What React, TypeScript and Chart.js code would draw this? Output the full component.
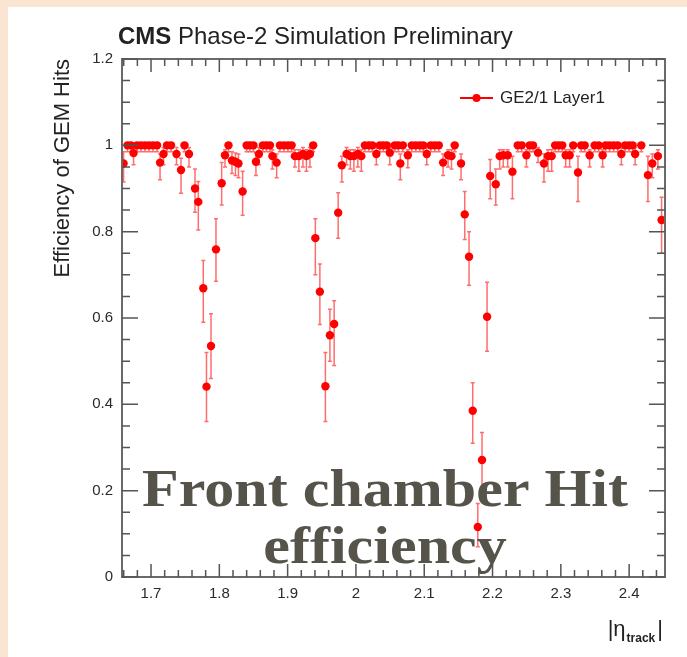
import React, { useEffect, useRef } from "react";
import { Chart, registerables } from "chart.js";

Chart.register(...registerables);

// ---- data ----
const etaValues = [
  1.6598, 1.6656, 1.6707, 1.6744, 1.6795, 1.6854, 1.6912, 1.6971, 1.7029, 1.7088,
  1.7132, 1.7183, 1.7234, 1.7293, 1.7373, 1.7439, 1.749, 1.7556, 1.7644, 1.7692,
  1.7765, 1.7812, 1.7878, 1.7951, 1.8034, 1.8083, 1.8134, 1.8185, 1.8236, 1.828,
  1.8341, 1.84, 1.8448, 1.8499, 1.8536, 1.858, 1.8638, 1.869, 1.8741, 1.8777,
  1.8839, 1.8887, 1.8946, 1.9004, 1.9058, 1.9107, 1.9165, 1.9224, 1.9275, 1.9326,
  1.9374, 1.9406, 1.9472, 1.9553, 1.9619, 1.9681, 1.974, 1.9794, 1.9863, 1.9918,
  1.997, 2.0028, 2.0079, 2.0131, 2.0189, 2.024, 2.0299, 2.035, 2.0401, 2.0452,
  2.0496, 2.0569, 2.0621, 2.065, 2.0686, 2.076, 2.0818, 2.0877, 2.0935, 2.0986,
  2.1037, 2.1096, 2.1154, 2.1213, 2.1276, 2.1349, 2.1399, 2.1446, 2.1539, 2.1593,
  2.1656, 2.171, 2.1784, 2.1846, 2.192, 2.1966, 2.2047, 2.2105, 2.2157, 2.2222,
  2.2291, 2.2369, 2.2427, 2.2496, 2.2544, 2.2592, 2.2666, 2.2753, 2.2812, 2.2866,
  2.2917, 2.2968, 2.302, 2.3071, 2.3129, 2.3181, 2.3251, 2.3298, 2.3349, 2.3422,
  2.3495, 2.3554, 2.3612, 2.3656, 2.3714, 2.3773, 2.3832, 2.3886, 2.3941, 2.4,
  2.4051, 2.4088, 2.4178, 2.4275, 2.4339, 2.4421, 2.4475,
];

const efficiency = [
  0.958, 1, 1, 0.982, 1, 1, 1, 1, 1, 1,
  0.96, 0.98, 1, 1, 0.98, 0.943, 1, 0.98, 0.9, 0.869,
  0.669, 0.441, 0.535, 0.759, 0.912, 0.977, 1, 0.965, 0.962, 0.958,
  0.893, 1, 1, 1, 0.962, 0.98, 1, 1, 1, 0.975,
  0.96, 1, 1, 1, 1, 0.975, 0.975, 0.98, 0.975, 0.98,
  1, 0.785, 0.661, 0.442, 0.56, 0.586, 0.844, 0.954, 0.98, 0.975,
  0.975, 0.98, 0.975, 1, 1, 1, 0.98, 1, 1, 1,
  0.983, 1, 1, 0.958, 1, 0.977, 1, 1, 1, 1,
  0.98, 1, 1, 1, 0.96, 0.977, 0.975, 1, 0.958, 0.84,
  0.742, 0.385, 0.116, 0.271, 0.603, 0.929, 0.91, 0.975, 0.977, 0.977,
  0.939, 1, 1, 0.977, 1, 1, 0.983, 0.958, 0.975, 0.975,
  1, 1, 1, 0.977, 0.977, 1, 0.937, 1, 1, 0.977,
  1, 1, 0.977, 1, 1, 1, 1, 0.98, 1, 1,
  1, 0.98, 1, 0.931, 0.958, 0.975, 0.827,
];

const errLow = [
  0.915, 0.985, 0.985, 0.955, 0.985, 0.985, 0.985, 0.985, 0.985, 0.985,
  0.92, 0.955, 0.985, 0.985, 0.955, 0.889, 0.985, 0.95, 0.845, 0.804,
  0.59, 0.36, 0.46, 0.685, 0.862, 0.95, 0.985, 0.935, 0.93, 0.925,
  0.838, 0.985, 0.985, 0.985, 0.93, 0.955, 0.985, 0.985, 0.985, 0.945,
  0.925, 0.985, 0.985, 0.985, 0.985, 0.95, 0.94, 0.95, 0.94, 0.95,
  0.985, 0.7, 0.585, 0.36, 0.5, 0.49, 0.785, 0.915, 0.955, 0.945,
  0.94, 0.95, 0.94, 0.985, 0.985, 0.985, 0.955, 0.985, 0.985, 0.985,
  0.955, 0.985, 0.985, 0.92, 0.985, 0.948, 0.985, 0.985, 0.985, 0.985,
  0.955, 0.985, 0.985, 0.985, 0.93, 0.95, 0.945, 0.985, 0.92, 0.782,
  0.676, 0.31, 0.07, 0.2, 0.523, 0.876, 0.862, 0.945, 0.95, 0.95,
  0.876, 0.985, 0.985, 0.95, 0.985, 0.985, 0.96, 0.915, 0.94, 0.94,
  0.985, 0.985, 0.985, 0.95, 0.95, 0.985, 0.87, 0.985, 0.985, 0.95,
  0.985, 0.985, 0.95, 0.985, 0.985, 0.985, 0.985, 0.955, 0.985, 0.985,
  0.985, 0.955, 0.985, 0.87, 0.925, 0.945, 0.75,
];

const errHigh = [
  0.985, 1, 1, 0.995, 1, 1, 1, 1, 1, 1,
  0.98, 0.995, 1, 1, 0.995, 0.97, 1, 0.995, 0.945, 0.916,
  0.733, 0.52, 0.61, 0.83, 0.96, 0.99, 1, 0.985, 0.982, 0.98,
  0.94, 1, 1, 1, 0.982, 0.995, 1, 1, 1, 0.99,
  0.98, 1, 1, 1, 1, 0.99, 0.99, 0.995, 0.99, 0.995,
  1, 0.83, 0.725, 0.52, 0.62, 0.64, 0.89, 0.975, 0.995, 0.99,
  0.99, 0.995, 0.99, 1, 1, 1, 0.995, 1, 1, 1,
  0.995, 1, 1, 0.98, 1, 0.99, 1, 1, 1, 1,
  0.995, 1, 1, 1, 0.98, 0.99, 0.99, 1, 0.98, 0.893,
  0.8, 0.45, 0.17, 0.335, 0.683, 0.967, 0.945, 0.99, 0.99, 0.99,
  0.975, 1, 1, 0.99, 1, 1, 0.995, 0.98, 0.99, 0.99,
  1, 1, 1, 0.99, 0.99, 1, 0.975, 1, 1, 0.99,
  1, 1, 0.99, 1, 1, 1, 1, 0.995, 1, 1,
  1, 0.995, 1, 0.975, 0.98, 0.99, 0.88,
];

const xTickValues = [1.7, 1.8, 1.9, 2.0, 2.1, 2.2, 2.3, 2.4];
const xTickLabels = ["1.7", "1.8", "1.9", "2", "2.1", "2.2", "2.3", "2.4"];
const yTickValues = [0, 0.2, 0.4, 0.6, 0.8, 1.0, 1.2];
const yTickLabels = ["0", "0.2", "0.4", "0.6", "0.8", "1", "1.2"];

const seriesLabel = "GE2/1 Layer1";
const titleBold = "CMS";
const titleRest = " Phase-2 Simulation Preliminary";
const yAxisTitle = "Efficiency of GEM Hits";
const xAxisTitleMain = "|\u03B7";
const xAxisTitleSub = "track";
const xAxisTitleEnd = "|";
const overlayLines = ["Front chamber Hit", "efficiency"];

const X_MIN = 1.6575;
const X_MAX = 2.4525;
const Y_MIN = 0;
const Y_MAX = 1.2;

const SANS = '"Liberation Sans", Arial, Helvetica, sans-serif';
const SERIF = '"Liberation Serif", "Times New Roman", serif';

const decorPlugin = {
  id: "rootDecor",
  beforeDatasetsDraw(chart: any) {
    const ctx = chart.ctx;
    const xs = chart.scales.x;
    const ys = chart.scales.y;
    ctx.save();
    ctx.strokeStyle = "rgba(255,30,30,0.65)";
    ctx.lineWidth = 1.5;
    etaValues.forEach((eta, i) => {
      const px = xs.getPixelForValue(eta);
      const lo = ys.getPixelForValue(errLow[i]);
      const hi = ys.getPixelForValue(errHigh[i]);
      ctx.beginPath();
      ctx.moveTo(px, lo);
      ctx.lineTo(px, hi);
      if (Math.abs(lo - hi) > 3) {
        ctx.moveTo(px - 2, lo);
        ctx.lineTo(px + 2, lo);
        ctx.moveTo(px - 2, hi);
        ctx.lineTo(px + 2, hi);
      }
      ctx.stroke();
    });
    ctx.restore();
  },
  afterDraw(chart: any) {
    const ctx = chart.ctx;
    const { left, right, top, bottom } = chart.chartArea;
    const xs = chart.scales.x;
    const ys = chart.scales.y;
    ctx.save();

    // frame
    ctx.strokeStyle = "#6a6a6a";
    ctx.lineWidth = 2;
    ctx.strokeRect(left, top, right - left, bottom - top);

    // ticks
    ctx.lineWidth = 1.5;
    ctx.strokeStyle = "#555";
    ctx.beginPath();
    for (let k = 0; k <= 24; k++) {
      const v = k * 0.05;
      const py = ys.getPixelForValue(v);
      const len = k % 4 === 0 ? 16 : 8;
      ctx.moveTo(left, py);
      ctx.lineTo(left + len, py);
      ctx.moveTo(right, py);
      ctx.lineTo(right - len, py);
    }
    const k0 = Math.ceil(X_MIN / 0.02);
    const k1 = Math.floor(X_MAX / 0.02);
    for (let k = k0; k <= k1; k++) {
      const v = k * 0.02;
      const px = xs.getPixelForValue(v);
      const len = k % 5 === 0 ? 13 : 7;
      ctx.moveTo(px, bottom);
      ctx.lineTo(px, bottom - len);
      ctx.moveTo(px, top);
      ctx.lineTo(px, top + len);
    }
    ctx.stroke();

    // title
    ctx.fillStyle = "#222";
    ctx.textBaseline = "alphabetic";
    ctx.textAlign = "left";
    ctx.font = `bold 24px ${SANS}`;
    const tx = 110;
    const ty = 37;
    ctx.fillText(titleBold, tx, ty);
    const wb = ctx.measureText(titleBold).width;
    ctx.font = `24px ${SANS}`;
    ctx.fillText(titleRest, tx + wb, ty);

    // y axis title (right-aligned at top of axis, ROOT style)
    ctx.save();
    ctx.translate(55, top);
    ctx.rotate(-Math.PI / 2);
    ctx.font = `22px ${SANS}`;
    ctx.textAlign = "right";
    ctx.textBaseline = "middle";
    ctx.fillText(yAxisTitle, 0, 0);
    ctx.restore();

    // x axis title
    ctx.font = `22px ${SANS}`;
    const w1 = ctx.measureText(xAxisTitleMain).width;
    const w3 = ctx.measureText(xAxisTitleEnd).width;
    ctx.font = `bold 12px ${SANS}`;
    const w2 = ctx.measureText(xAxisTitleSub).width;
    const endX = right - 2;
    const startX = endX - (w1 + 1 + w2 + 2 + w3);
    ctx.textAlign = "left";
    ctx.font = `22px ${SANS}`;
    ctx.fillText(xAxisTitleMain, startX, 629);
    ctx.font = `bold 12px ${SANS}`;
    ctx.fillText(xAxisTitleSub, startX + w1 + 1, 635);
    ctx.font = `22px ${SANS}`;
    ctx.fillText(xAxisTitleEnd, startX + w1 + 1 + w2 + 2, 629);

    // legend
    const ly = 91;
    ctx.strokeStyle = "#ff0000";
    ctx.lineWidth = 2;
    ctx.beginPath();
    ctx.moveTo(452, ly);
    ctx.lineTo(485, ly);
    ctx.stroke();
    ctx.fillStyle = "#ff0000";
    ctx.beginPath();
    ctx.arc(468.5, ly, 4, 0, Math.PI * 2);
    ctx.fill();
    ctx.fillStyle = "#222";
    ctx.font = `17px ${SANS}`;
    ctx.textBaseline = "middle";
    ctx.fillText(chart.data.datasets[0].label, 492, ly);

    // overlay caption
    ctx.fillStyle = "#55534a";
    ctx.font = `bold 53px ${SERIF}`;
    ctx.textBaseline = "alphabetic";
    ctx.textAlign = "center";
    const m = ctx.measureText(overlayLines[0]).width;
    const sx = 486 / m;
    const cx = 377;
    ctx.save();
    ctx.translate(cx, 499);
    ctx.scale(sx, 1);
    ctx.fillText(overlayLines[0], 0, 0);
    ctx.restore();
    ctx.save();
    ctx.translate(cx, 556);
    ctx.scale(sx, 1);
    ctx.fillText(overlayLines[1], 0, 0);
    ctx.restore();

    ctx.restore();
  },
};

export default function App() {
  const ref = useRef<HTMLCanvasElement | null>(null);

  useEffect(() => {
    document.body.style.margin = "0";
    const canvas = ref.current;
    if (!canvas) return;
    const points = etaValues.map((x, i) => ({ x, y: efficiency[i] }));
    const chart = new Chart(canvas, {
      type: "scatter",
      data: {
        datasets: [
          {
            label: seriesLabel,
            data: points,
            showLine: false,
            pointRadius: 4.2,
            pointHoverRadius: 4.2,
            pointBackgroundColor: "#ff0000",
            pointBorderColor: "#ff0000",
            pointBorderWidth: 0,
            pointStyle: "circle",
          },
        ],
      },
      options: {
        animation: false,
        responsive: false,
        devicePixelRatio: 1,
        events: [],
        layout: { padding: { left: 0, right: 22, top: 52, bottom: 0 } },
        plugins: {
          legend: { display: false },
          tooltip: { enabled: false },
          title: { display: false },
        },
        scales: {
          x: {
            type: "linear",
            min: X_MIN,
            max: X_MAX,
            grid: { display: false, drawTicks: false },
            border: { display: false },
            afterBuildTicks: (scale: any) => {
              scale.ticks = xTickValues.map((v) => ({ value: v }));
            },
            afterFit: (scale: any) => {
              scale.height = 80;
            },
            ticks: {
              autoSkip: false,
              maxRotation: 0,
              minRotation: 0,
              padding: 8,
              color: "#2a2a2a",
              font: { family: SANS, size: 15 },
              callback: (v: any) => {
                const i = xTickValues.findIndex((t) => Math.abs(t - Number(v)) < 1e-6);
                return i >= 0 ? xTickLabels[i] : "";
              },
            },
          },
          y: {
            type: "linear",
            min: Y_MIN,
            max: Y_MAX,
            grid: { display: false, drawTicks: false },
            border: { display: false },
            afterBuildTicks: (scale: any) => {
              scale.ticks = yTickValues.map((v) => ({ value: v }));
            },
            afterFit: (scale: any) => {
              scale.width = 114;
            },
            ticks: {
              autoSkip: false,
              padding: 9,
              color: "#2a2a2a",
              font: { family: SANS, size: 15 },
              callback: (v: any) => {
                const i = yTickValues.findIndex((t) => Math.abs(t - Number(v)) < 1e-6);
                return i >= 0 ? yTickLabels[i] : "";
              },
            },
          },
        },
      },
      plugins: [decorPlugin],
    });
    return () => chart.destroy();
  }, []);

  return (
    <div
      style={{
        position: "fixed",
        left: 0,
        top: 0,
        width: "687px",
        height: "657px",
        background: "#fae5d3",
        overflow: "hidden",
      }}
    >
      <canvas
        ref={ref}
        width={679}
        height={650}
        style={{
          position: "absolute",
          left: "8px",
          top: "7px",
          width: "679px",
          height: "650px",
          background: "#ffffff",
        }}
      />
    </div>
  );
}
